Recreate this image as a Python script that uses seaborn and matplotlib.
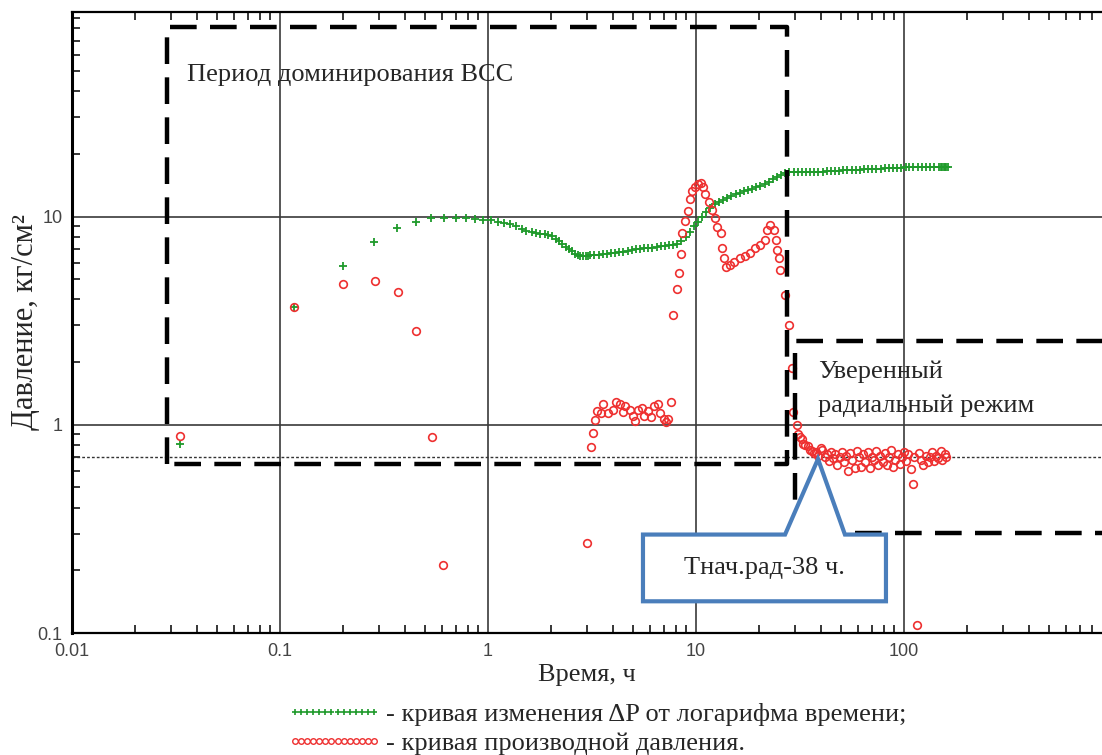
import numpy as np
import pandas as pd
import matplotlib
matplotlib.use("Agg")
import matplotlib.pyplot as plt
import seaborn as sns
from matplotlib.lines import Line2D
from matplotlib.patches import Polygon
from matplotlib.ticker import LogLocator, NullFormatter

# ---------------- data ----------------
dp_time = [0.033, 0.117, 0.200, 0.283, 0.367, 0.450, 0.533, 0.617, 0.700, 0.783,
           0.867, 0.950, 1.03, 1.12, 1.20, 1.28, 1.37, 1.45, 1.53, 1.62,
           1.70, 1.78, 1.87, 1.95, 2.03, 2.12, 2.20, 2.28, 2.37, 2.45,
           2.53, 2.62, 2.70, 2.78, 2.87, 2.95, 3.03,
           3.1, 3.25, 3.4, 3.56, 3.73, 3.9, 4.09, 4.28, 4.48, 4.69, 4.91, 5.14,
           5.38, 5.63, 5.9, 6.17, 6.46, 6.77, 7.09, 7.42, 7.77, 8.13, 8.51, 8.91,
           9.33, 9.77, 10.2, 10.7, 11.2, 11.7, 12.3, 12.9, 13.5, 14.1, 14.8, 15.5,
           16.2, 17.0, 17.8, 18.6, 19.5, 20.4, 21.4, 22.4, 23.4, 24.5, 25.7, 26.9,
           28.1, 29.5, 30.8, 32.3, 33.8, 35.4, 37.1, 38.8, 40.6, 42.5, 44.5, 46.6,
           48.8, 51.1, 53.5, 56.0, 58.6, 61.4, 64.3, 67.3, 70.4, 73.7, 77.2, 80.8,
           84.6, 88.6, 92.7, 97.1, 102, 106, 111, 117, 122, 128, 134, 140, 147,
           150, 153, 156, 158, 160, 163]
dp_value = [0.81, 3.66, 5.81, 7.57, 8.83, 9.43, 9.85, 9.85, 9.83, 9.80,
            9.68, 9.62, 9.58, 9.45, 9.35, 9.2, 9.0, 8.75, 8.55, 8.4,
            8.3, 8.25, 8.2, 8.15, 8.05, 7.8, 7.6, 7.35, 7.15, 6.95,
            6.8, 6.6, 6.5, 6.45, 6.45, 6.45, 6.48,
            6.5, 6.52, 6.55, 6.58, 6.62, 6.66, 6.7, 6.75, 6.78, 6.82, 6.88, 6.95,
            7.0, 7.03, 7.07, 7.1, 7.13, 7.18, 7.22, 7.27, 7.32, 7.4, 7.6, 7.95,
            8.45, 9.0, 9.4, 9.9, 10.5, 11.0, 11.5, 11.8, 12.0, 12.3, 12.5, 12.8,
            13.0, 13.2, 13.4, 13.6, 13.8, 14.0, 14.3, 14.7, 15.1, 15.5, 15.8, 16.1,
            16.3, 16.3, 16.3, 16.3, 16.35, 16.35, 16.4, 16.4, 16.45, 16.5, 16.5, 16.55,
            16.6, 16.65, 16.7, 16.75, 16.8, 16.8, 16.85, 16.9, 16.95, 17.0, 17.0, 17.05,
            17.1, 17.1, 17.15, 17.15, 17.2, 17.2, 17.2, 17.2, 17.25, 17.25, 17.25, 17.25, 17.3,
            17.3, 17.3, 17.3, 17.3, 17.3, 17.3]

der_time = [0.033, 0.117, 0.201, 0.286, 0.369, 0.451, 0.538, 0.61,
            2.99, 3.13, 3.2, 3.27, 3.35, 3.5, 3.57, 3.76, 3.97, 4.14, 4.31, 4.46,
            4.57, 4.8, 4.97, 5.08, 5.26, 5.5, 5.6, 5.87, 6.1, 6.3, 6.6, 6.7,
            7.0, 7.2, 7.3, 7.6,
            7.74, 8.1, 8.3, 8.5, 8.6, 8.9, 9.2, 9.4, 9.6, 9.9, 10.2, 10.6, 10.8,
            11.1, 11.5, 11.9, 12.4, 12.6, 13.2, 13.4, 13.7, 13.9, 14.5, 15.3, 16.2,
            17.2, 18.2, 19.3, 20.3, 21.5, 22.0, 22.7, 23.6, 24.2, 24.6, 25.2, 25.4,
            26.9, 28.0, 28.9, 29.3,
            30.5, 30.9, 31.5, 32.2, 32.6, 33.5, 34.5, 35.2, 36.1, 37.0, 37.9, 38.8,
            39.7, 40.5, 41.5, 42.5, 43.5, 44.5, 45.6, 46.7, 47.8, 49.0, 50.2, 51.4,
            52.6, 53.9, 55.2, 56.5, 57.9, 59.3, 60.7, 62.2, 63.7, 65.2, 66.8, 68.4,
            70.0, 71.7, 73.4, 75.2, 77.0, 78.9, 80.8, 82.7, 84.7, 86.7, 88.8, 91.0,
            93.2, 95.4, 97.7, 100, 102.5, 105, 107.5, 110, 112, 115, 118, 121,
            124, 127, 130, 133, 136, 140, 143, 146, 150, 153, 157, 160]
der_value = [0.88, 3.66, 4.76, 4.92, 4.36, 2.81, 0.87, 0.213,
             0.27, 0.78, 0.91, 1.05, 1.16, 1.14, 1.26, 1.14, 1.18, 1.28, 1.26, 1.15,
             1.23, 1.18, 1.10, 1.04, 1.18, 1.2, 1.10, 1.16, 1.09, 1.23, 1.26, 1.14,
             1.06, 1.03, 1.07, 1.29,
             3.35, 4.5, 5.37, 6.6, 8.35, 9.53, 10.6, 12.1, 13.2, 13.9, 14.4, 14.5, 13.9,
             12.9, 11.7, 10.7, 9.8, 8.95, 8.35, 7.07, 6.35, 5.75, 5.85, 6.05, 6.35,
             6.45, 6.7, 7.07, 7.3, 7.74, 8.6, 9.1, 8.6, 7.74, 6.9, 6.35, 5.55,
             4.2, 3.03, 1.87, 1.15,
             1.0, 0.9, 0.87, 0.85, 0.81, 0.8, 0.79, 0.76, 0.75, 0.73, 0.74, 0.71,
             0.77, 0.76, 0.70, 0.72, 0.67, 0.74, 0.69, 0.72, 0.64, 0.70, 0.74, 0.66,
             0.71, 0.60, 0.73, 0.68, 0.62, 0.75, 0.70, 0.63, 0.72, 0.66, 0.74, 0.62,
             0.70, 0.68, 0.75, 0.64, 0.71, 0.66, 0.73, 0.64, 0.70, 0.76, 0.63, 0.68,
             0.72, 0.65, 0.70, 0.74, 0.67, 0.72, 0.61, 0.52, 0.70, 0.109, 0.73, 0.68,
             0.64, 0.71, 0.66, 0.70, 0.74, 0.67, 0.71, 0.69, 0.75, 0.68, 0.72, 0.70]

x_ticks = [0.01, 0.1, 1, 10, 100]
x_tick_labels = ["0.01", "0.1", "1", "10", "100"]
y_ticks = [0.1, 1, 10]
y_tick_labels = ["0.1", "1", "10"]

title_wbs = "Период доминирования ВСС"
title_radial = "Уверенный\nрадиальный режим"
callout_text = "Тнач.рад-38 ч."
x_label = "Время, ч"
y_label = "Давление, кг/см²"
legend_labels = ["- кривая изменения ΔP от логарифма времени;",
                 "- кривая производной давления."]

GREEN = "#1f9a2b"
RED = "#ee3030"
BLUE = "#4a7ebb"

# ---------------- figure ----------------
sns.set_theme(style="white")
plt.rcParams["font.family"] = ["Liberation Serif", "DejaVu Serif"]

fig = plt.figure(figsize=(11.02, 7.55), dpi=100)
ax = fig.add_axes([72 / 1102, 122 / 755, 1030 / 1102, 621 / 755])
ax.set_xscale("log")
ax.set_yscale("log")

dp_df = pd.DataFrame({"t": dp_time, "v": dp_value})
der_df = pd.DataFrame({"t": der_time, "v": der_value})

sns.lineplot(data=dp_df, x="t", y="v", ax=ax, estimator=None, sort=False,
             linestyle="", marker="+", markersize=6, color=GREEN,
             markeredgecolor=GREEN, markeredgewidth=1.3, zorder=3)
sns.lineplot(data=der_df, x="t", y="v", ax=ax, estimator=None, sort=False,
             linestyle="", marker="o", markersize=5.5, color=RED,
             markerfacecolor="none", markeredgecolor=RED, markeredgewidth=1.2,
             zorder=3)

ax.set_xlim(0.01, 10 ** (-2 + 1030 / 208))
ax.set_ylim(0.1, 96)

# grid & reference line
ax.grid(True, which="major", color="#3a3a3a", lw=1.2)
ax.set_axisbelow(True)
ax.axhline(0.7, color="#333333", lw=1.0, ls=(0, (2, 1.5)), zorder=1)

# ticks
ax.xaxis.set_major_locator(plt.FixedLocator(x_ticks))
ax.set_xticklabels(x_tick_labels)
ax.yaxis.set_major_locator(plt.FixedLocator(y_ticks))
ax.set_yticklabels(y_tick_labels)
ax.xaxis.set_minor_locator(LogLocator(base=10, subs=np.arange(2, 10)))
ax.yaxis.set_minor_locator(LogLocator(base=10, subs=np.arange(2, 10)))
ax.xaxis.set_minor_formatter(NullFormatter())
ax.yaxis.set_minor_formatter(NullFormatter())
ax.tick_params(which="both", direction="in", top=True, bottom=True, left=True,
               right=False, color="black")
ax.tick_params(which="major", length=0, pad=7, labelsize=13, labelcolor="#444444")
ax.tick_params(which="minor", length=6, width=1.1)
for lab in ax.get_xticklabels() + ax.get_yticklabels():
    lab.set_fontfamily("Liberation Sans")

for side in ["left", "bottom", "top"]:
    ax.spines[side].set_visible(True)
    ax.spines[side].set_color("black")
ax.spines["left"].set_linewidth(2.2)
ax.spines["bottom"].set_linewidth(1.6)
ax.spines["top"].set_linewidth(1.6)
ax.spines["right"].set_visible(False)

# dashed boxes
dash = dict(color="black", lw=3.2, ls=(0, (6, 3)), zorder=4, solid_capstyle="butt")
bx0, bx1, by0, by1 = 0.0286, 27.4, 0.65, 81
ax.plot([bx0, bx0, bx1, bx1, bx0], [by0, by1, by1, by0, by0], **dash)
rx0, ry0, ry1 = 29.9, 0.303, 2.52
ax.plot([1000, rx0, rx0, 1000], [ry1, ry1, ry0, ry0], **dash)

# texts
ax.text(0.0357, 47.8, title_wbs, fontsize=19, ha="left", va="center", zorder=5)
ax.text(38.6, 1.49, title_radial, fontsize=19, ha="left", va="center",
        linespacing=1.7, zorder=5)

# callout
cx0, cx1, cy0, cy1 = 5.56, 81.9, 0.142, 0.297
poly = Polygon([(cx0, cy1), (26.8, cy1), (38.6, 0.685), (52, cy1), (cx1, cy1),
                (cx1, cy0), (cx0, cy0)], closed=True, facecolor="white",
               edgecolor=BLUE, lw=3, zorder=6, joinstyle="miter")
ax.add_patch(poly)
ax.text(np.sqrt(cx0 * cx1), np.sqrt(cy0 * cy1), callout_text, fontsize=19,
        ha="center", va="center", zorder=7)

ax.set_xlabel(x_label, fontsize=19, labelpad=3)
ax.set_ylabel(y_label, fontsize=22)
ax.yaxis.set_label_coords(-0.031, 0.5)

# legend
handles = [Line2D([], [], ls="", marker="+", color=GREEN, markersize=5, mew=1.2),
           Line2D([], [], ls="", marker="o", color=RED, markerfacecolor="none",
                  markersize=4, mew=1.0)]
fig.legend(handles, legend_labels, loc="center left",
           bbox_to_anchor=(287 / 1102, 1 - 729 / 755), frameon=False,
           numpoints=14, handlelength=3.6, handletextpad=0.15, labelspacing=0.2,
           fontsize=19, borderpad=0, borderaxespad=0)

fig.savefig("out.png", dpi=100)
